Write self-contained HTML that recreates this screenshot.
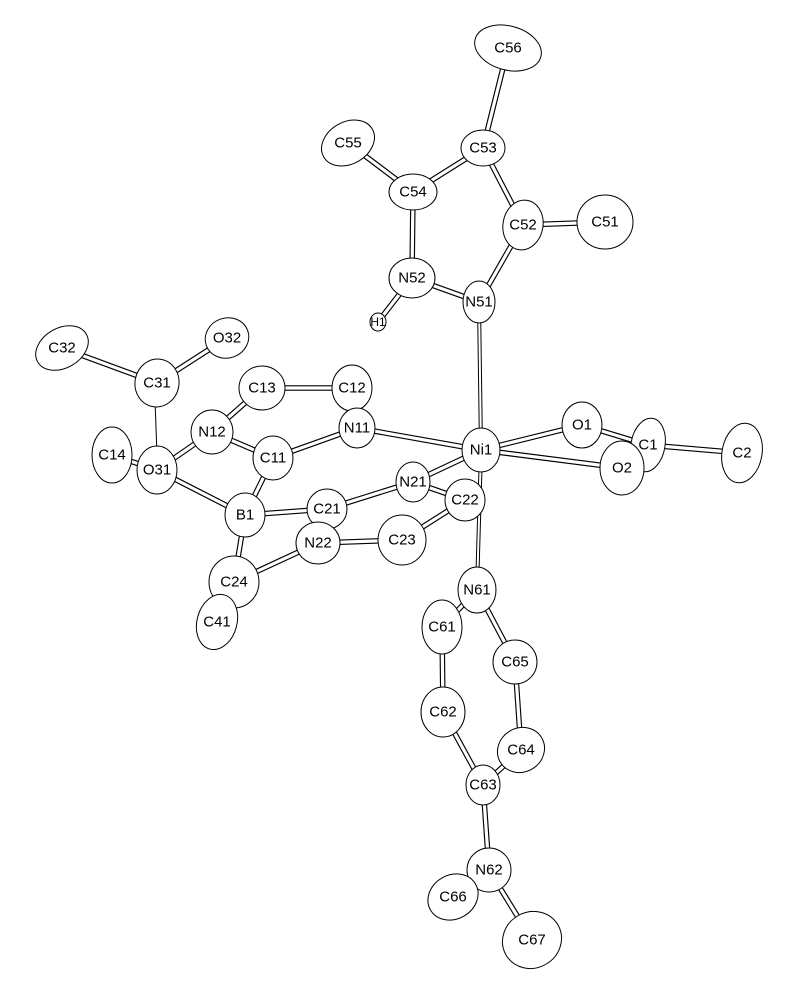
<!DOCTYPE html><html><head><style>body{margin:0;background:#fff}svg{display:block}
text{font-family:"Liberation Sans",sans-serif;font-size:15px;fill:#000;text-anchor:middle;dominant-baseline:central}
.b{stroke:#000;stroke-width:5.5;fill:none}.bi{stroke:#fff;stroke-width:3.2;fill:none}
.t{stroke:#000;stroke-width:4;fill:none}.ti{stroke:#fff;stroke-width:2;fill:none}
.s{stroke:#000;stroke-width:1;fill:none}
ellipse{fill:#fff;stroke:#000;stroke-width:1}</style></head><body>
<svg width="800" height="998" viewBox="0 0 800 998">
<g id="bonds"></g>
<line class="s" x1="155" y1="400" x2="157" y2="455"/>
<g id="bonds2"></g>
<g id="atoms"></g>
<script>
var A={C56:[508,48,34,22,15],C55:[348,143,28,21,-30],C53:[483,148,22,18,0],C54:[413,192,24,18,0],C52:[523,225,20,25,10],C51:[605,222,28,27,0],N52:[412,278,23,20,0],N51:[479,302,16,21,0],H1:[378,322,8,9,0],C32:[62,348,28,20,-30],O32:[227,338,22,20,-20],C31:[157,383,22,24,10],C13:[262,388,23,22,0],C12:[352,388,20,23,0],N12:[212,432,21,22,0],N11:[357,428,18,20,0],C14:[112,455,20,28,0],O31:[157,470,20,24,0],C11:[273,458,20,22,0],Ni1:[481,450,19,22,0],C1:[648,445,17,27,10],O1:[582,425,20,23,0],O2:[622,468,22,27,0],N21:[413,482,17,20,0],C22:[465,500,20,21,0],B1:[245,515,20,22,0],C21:[327,509,20,20,0],N22:[318,543,22,21,0],C23:[402,540,24,25,0],C24:[234,582,25,26,0],C41:[217,622,20,28,15],N61:[477,590,19,23,0],C61:[442,627,20,27,0],C65:[515,662,22,22,0],C62:[443,712,22,25,0],C64:[521,750,24,22,-30],C63:[483,785,17,20,0],N62:[489,870,22,22,0],C66:[453,897,26,22,-30],C67:[532,940,30,28,-30],C2:[742,453,20,30,10]};
var B="C56-C53 C53-C54 C53-C52 C54-C55 C54-N52 C52-C51 C52-N51 N52-N51 N52-H1 C32-C31 C31-O32 O31-B1 B1-C11 B1-C21 B1-C24 C11-N12 C11-N11 N12-C13 C13-C12 C12-N11 N11-Ni1 Ni1-O1 Ni1-O2 O1-C1 O2-C1 C1-C2 Ni1-N21 N21-C21 N21-C22 C22-C23 C23-N22 N22-C21 N22-C24 C24-C41 N61-C61 N61-C65 C61-C62 C65-C64 C62-C63 C64-C63 C63-N62 N62-C66 N62-C67 C14-O31 O31-N12".split(" ");
var ns="http://www.w3.org/2000/svg",g=document.getElementById("bonds"),g2=document.getElementById("bonds2"),ga=document.getElementById("atoms");
function L(p,q,c){var l=document.createElementNS(ns,"line");l.setAttribute("x1",p[0]);l.setAttribute("y1",p[1]);l.setAttribute("x2",q[0]);l.setAttribute("y2",q[1]);l.setAttribute("class",c);return l}
B.forEach(function(s){var k=s.split("-"),p=A[k[0]],q=A[k[1]];g.appendChild(L(p,q,"b"));g2.appendChild(L(p,q,"bi"));});
[["N51","Ni1"],["Ni1","N61"]].forEach(function(k){var p=A[k[0]],q=A[k[1]];g.appendChild(L(p,q,"t"));g2.appendChild(L(p,q,"ti"));});
for(var n in A){var a=A[n],e=document.createElementNS(ns,"ellipse");e.setAttribute("cx",a[0]);e.setAttribute("cy",a[1]);e.setAttribute("rx",a[2]);e.setAttribute("ry",a[3]);if(a[4])e.setAttribute("transform","rotate("+a[4]+" "+a[0]+" "+a[1]+")");ga.appendChild(e);
var t=document.createElementNS(ns,"text");t.setAttribute("x",a[0]);t.setAttribute("y",a[1]);if(n=="H1")t.setAttribute("style","font-size:12px");t.textContent=n;ga.appendChild(t);}
</script>
</svg></body></html>
